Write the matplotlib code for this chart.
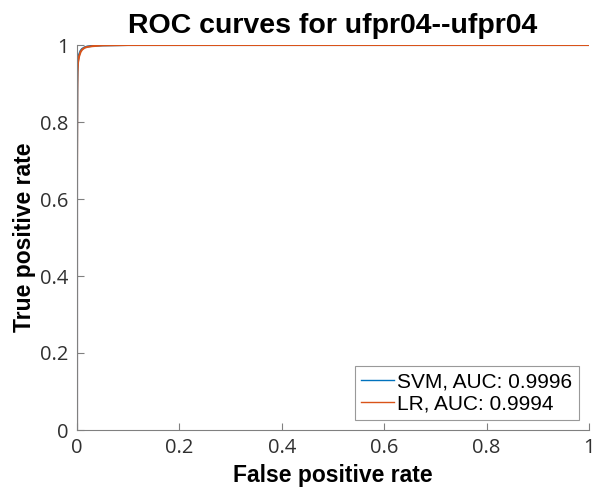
import matplotlib
matplotlib.use("Agg")
import matplotlib.pyplot as plt

svm_fpr = [0, 0, 0.0005, 0.001, 0.002, 0.004, 0.007, 0.01, 0.015, 0.02, 0.03, 0.05, 0.1, 1]
svm_tpr = [0, 0.70, 0.90, 0.94, 0.96, 0.975, 0.985, 0.990, 0.994, 0.996, 0.998, 0.999, 1, 1]
lr_fpr = [0, 0, 0.0005, 0.001, 0.002, 0.004, 0.007, 0.01, 0.015, 0.02, 0.03, 0.05, 0.1, 1]
lr_tpr = [0, 0.65, 0.88, 0.93, 0.955, 0.97, 0.982, 0.988, 0.993, 0.995, 0.997, 0.999, 1, 1]
labels = ["SVM, AUC: 0.9996", "LR, AUC: 0.9994"]
title = "ROC curves for ufpr04--ufpr04"
ticks = [0, 0.2, 0.4, 0.6, 0.8, 1]
tick_labels = ["0", "0.2", "0.4", "0.6", "0.8", "1"]

fig = plt.figure(figsize=(5.94, 4.98), dpi=100)
ax = fig.add_axes([77/594, 1-430/498, 512/594, 385/498])
ax.plot(svm_fpr, svm_tpr, color=(0, 0.447, 0.741), lw=1.5, label=labels[0])
ax.plot(lr_fpr, lr_tpr, color=(0.85, 0.325, 0.098), lw=1.5, label=labels[1])
ax.set_xlim(0, 1)
ax.set_ylim(0, 1)
ax.set_xticks(ticks)
ax.set_xticklabels(tick_labels)
ax.set_yticks(ticks)
ax.set_yticklabels(tick_labels)
for s in ["top", "right"]:
    ax.spines[s].set_visible(False)
for s in ["left", "bottom"]:
    ax.spines[s].set_color("#808080")
    ax.spines[s].set_linewidth(0.8)
ax.tick_params(direction="in", length=5, color="#808080", labelcolor="#303030",
               labelsize=14.5, pad=6)
for t in ax.get_xticklabels() + ax.get_yticklabels():
    t.set_family("Open Sans")
ax.set_title(title, fontsize=20.5, fontweight="bold", family="Liberation Sans", pad=9)
ax.set_xlabel("False positive rate", fontsize=16.5, fontweight="bold", family="Liberation Sans", labelpad=4)
ax.set_ylabel("True positive rate", fontsize=16.5, fontweight="bold", family="Liberation Sans", labelpad=3)
leg = ax.legend(loc="lower right", prop={"family": "Liberation Sans", "size": 15},
                fancybox=False, framealpha=1, edgecolor="#999999", handlelength=1.6,
                handletextpad=0.15, borderaxespad=0.5, borderpad=0.3, labelspacing=0.15)
leg.get_frame().set_linewidth(0.8)
for h in leg.get_lines():
    h.set_linewidth(1.0)
fig.savefig("out.png", dpi=100)
